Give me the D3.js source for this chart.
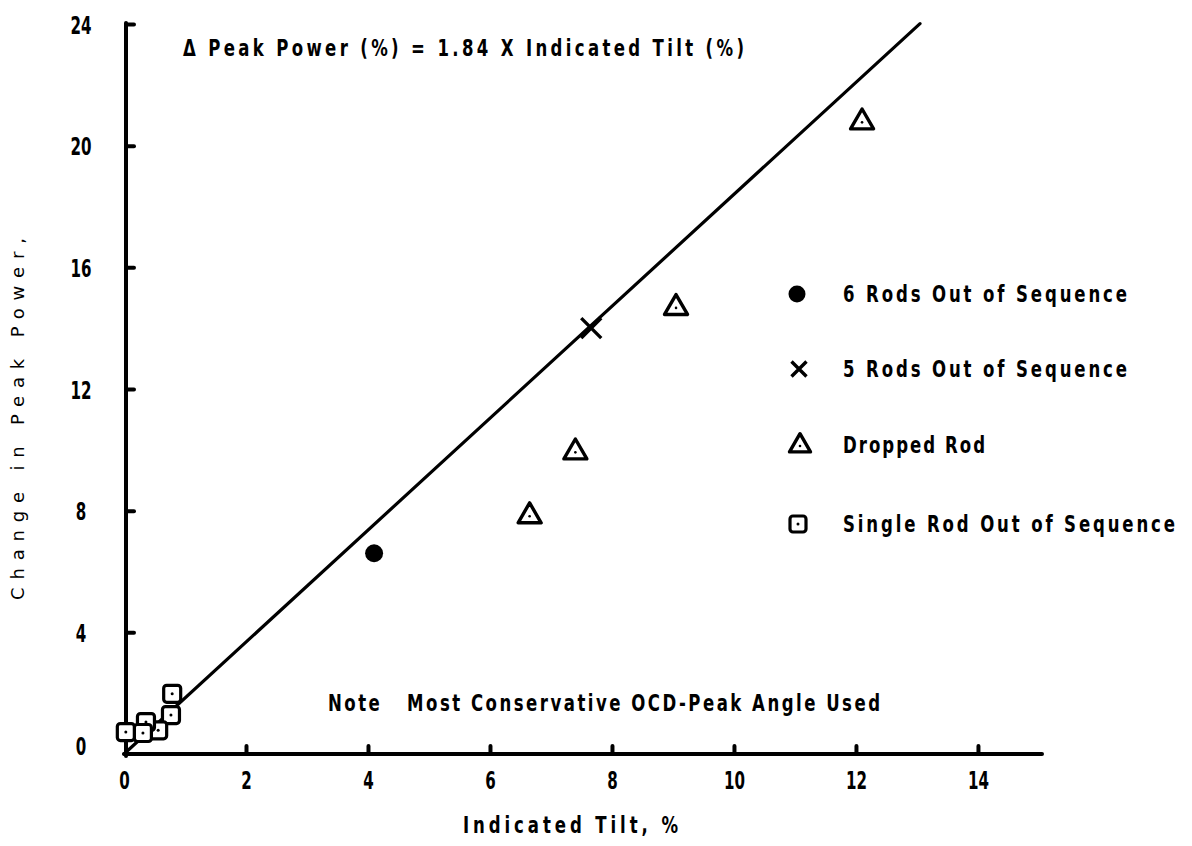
<!DOCTYPE html>
<html>
<head>
<meta charset="utf-8">
<script src="https://cdn.jsdelivr.net/npm/d3@7"></script>
<style>
  html, body { margin: 0; padding: 0; background: #fff; }
  svg { display: block; }
  .lbl { font-family: "DejaVu Sans Condensed", "DejaVu Sans", sans-serif; font-weight: bold; fill: #000; }
</style>
</head>
<body>
<svg id="chart" width="1192" height="846"></svg>
<script>
// Tick values
const xTicks = [0, 2, 4, 6, 8, 10, 12, 14];
const yTicks = [0, 4, 8, 12, 16, 20, 24];

// Series: indicated tilt (%) and change in peak power (%)
const sixRodsTilt = [4.1];
const sixRodsPower = [6.6];

const fiveRodsTilt = [7.66];
const fiveRodsPower = [14.0];

const droppedTilt = [6.65, 7.4, 9.05, 12.1];
const droppedPower = [7.85, 9.95, 14.7, 20.8];

const singleTilt = [0.79, 0.77, 0.56, 0.36, 0.31, 0.03];
const singlePower = [1.98, 1.28, 0.78, 1.05, 0.69, 0.72];

// Fitted relation: delta peak power = 1.84 x indicated tilt
const fitSlope = 1.84;
const fitTiltRange = [0, 13.05];

const legendLabels = [
  "6 Rods Out of Sequence",
  "5 Rods Out of Sequence",
  "Dropped Rod",
  "Single Rod Out of Sequence"
];

const svg = d3.select("#chart");

const x = d3.scaleLinear().domain([0, 15.05]).range([124, 1042]);
const y = d3.scaleLinear().domain([0, 24]).range([754, 24]);

// narrow, tall digits for the tick labels
function styleTickText(sel) {
  sel.attr("class", "lbl").attr("font-family", null)
    .style("font-size", "25px")
    .attr("textLength", d => String(d).length * 10.5)
    .attr("lengthAdjust", "spacingAndGlyphs");
}

// condensed lettering with open tracking: glyphs squeezed horizontally,
// spacing stretched so the line spans the requested width
function label(parent, x0, yMid, txt, width, size, squeeze) {
  const g = parent.append("g").attr("transform", `translate(${x0},${yMid}) scale(${squeeze},1)`);
  g.append("text").attr("class", "lbl")
    .attr("x", 0).attr("y", 0).attr("dy", "0.36em")
    .style("font-size", size + "px")
    .attr("textLength", width / squeeze).attr("lengthAdjust", "spacing")
    .text(txt);
  return g;
}

// ---- axes ----
const xAxis = d3.axisBottom(x).tickValues(xTicks).tickSizeInner(-8).tickSizeOuter(0).tickPadding(17);
const gx = svg.append("g").attr("transform", `translate(0,${y(0)})`).call(xAxis);
gx.select(".domain").attr("stroke", "#000").attr("stroke-width", 4).attr("stroke-linecap", "round")
  .attr("d", `M${x(0)},0H${x(15.05)}`);
gx.selectAll(".tick line").attr("stroke", "#000").attr("stroke-width", 4).attr("stroke-linecap", "round")
  .attr("display", d => d === 0 ? "none" : null);
gx.selectAll(".tick text").call(styleTickText);

const yAxis = d3.axisLeft(y).tickValues(yTicks).tickSizeInner(-8).tickSizeOuter(0).tickPadding(0);
const gy = svg.append("g").attr("transform", `translate(${x(0) + 2},0)`).call(yAxis);
gy.select(".domain").attr("stroke", "#000").attr("stroke-width", 4).attr("stroke-linecap", "round")
  .attr("d", `M0,${y(0) + 2}V${y(24) - 1}`);
gy.selectAll(".tick line").attr("stroke", "#000").attr("stroke-width", 4).attr("stroke-linecap", "round")
  .attr("display", d => d === 0 ? "none" : null);
gy.selectAll(".tick text").call(styleTickText)
  .attr("text-anchor", "middle").attr("x", -45)
  .attr("dy", d => d === 0 ? "0.0em" : "0.36em");

// ---- fitted line ----
svg.append("line")
  .attr("x1", x(fitTiltRange[0])).attr("y1", y(fitSlope * fitTiltRange[0]))
  .attr("x2", x(fitTiltRange[1])).attr("y2", y(fitSlope * fitTiltRange[1]))
  .attr("stroke", "#000").attr("stroke-width", 3.2).attr("stroke-linecap", "round");

// ---- marker drawers ----
function drawCircle(g, cx, cy, r) {
  g.append("circle").attr("cx", cx).attr("cy", cy).attr("r", r).attr("fill", "#000");
}
function drawCross(g, cx, cy, s) {
  g.append("path")
    .attr("d", `M${cx - s},${cy - s}L${cx + s},${cy + s}M${cx - s},${cy + s}L${cx + s},${cy - s}`)
    .attr("stroke", "#000").attr("stroke-width", 3.4).attr("stroke-linecap", "butt");
}
function drawTriangle(g, cx, cy, s) {
  const h = s * Math.sqrt(3) / 2;
  g.append("path")
    .attr("d", `M${cx},${cy - h * 0.62}L${cx + s / 2},${cy + h * 0.38}L${cx - s / 2},${cy + h * 0.38}Z`)
    .attr("fill", "#fff").attr("stroke", "#000").attr("stroke-width", 3.4).attr("stroke-linejoin", "round");
  g.append("circle").attr("cx", cx).attr("cy", cy + 1).attr("r", 1.3).attr("fill", "#000");
}
function drawSquare(g, cx, cy, s) {
  g.append("rect").attr("x", cx - s / 2).attr("y", cy - s / 2).attr("width", s).attr("height", s)
    .attr("rx", 3).attr("fill", "#fff").attr("stroke", "#000").attr("stroke-width", 3.2);
  g.append("circle").attr("cx", cx).attr("cy", cy).attr("r", 1.5).attr("fill", "#000");
}

// ---- data marks ----
const marks = svg.append("g");
singleTilt.forEach((t, i) => drawSquare(marks, x(t), y(singlePower[i]), 17));
sixRodsTilt.forEach((t, i) => drawCircle(marks, x(t), y(sixRodsPower[i]), 9));
fiveRodsTilt.forEach((t, i) => drawCross(marks, x(t), y(fiveRodsPower[i]), 10));
droppedTilt.forEach((t, i) => drawTriangle(marks, x(t), y(droppedPower[i]), 23));

// ---- legend ----
const legend = svg.append("g");
const legendY = [294, 369, 445, 524];
const legendTextWidths = [284, 284, 142, 332];
drawCircle(legend, 797, legendY[0], 8.5);
drawCross(legend, 799, legendY[1], 7.5);
drawTriangle(legend, 800, legendY[2], 21);
drawSquare(legend, 798, legendY[3], 16);
legendLabels.forEach((txt, i) => label(legend, 843, legendY[i], txt, legendTextWidths[i], 23, 0.8));

// ---- annotations ----
label(svg, 183, 48, "Δ Peak Power (%) = 1.84 X Indicated Tilt (%)", 561, 23, 0.8);
label(svg, 328, 703, "Note\u00a0\u00a0 Most Conservative OCD-Peak Angle Used", 552, 23, 0.8);
label(svg, 463, 825, "Indicated Tilt, %", 215, 23, 0.8);

svg.append("text")
  .attr("transform", "translate(18,600) rotate(-90)")
  .attr("x", 0).attr("y", 0).attr("dy", "0.36em")
  .style("font-family", "'DejaVu Sans', sans-serif").style("font-size", "18px").attr("fill", "#000")
  .attr("textLength", 362).attr("lengthAdjust", "spacing")
  .text("Change in Peak Power,");
</script>
</body>
</html>
